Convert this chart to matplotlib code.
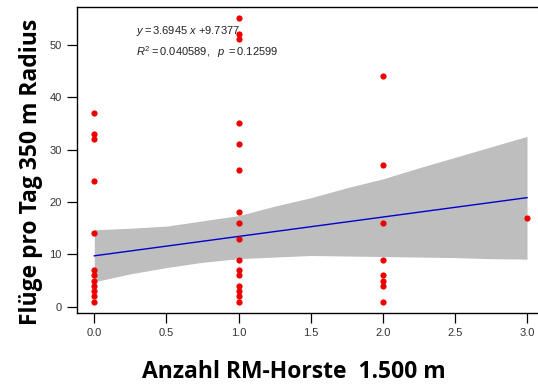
import numpy as np
import matplotlib
matplotlib.use("Agg")
import matplotlib.pyplot as plt

# points
x0 = [37, 33, 32, 24, 14, 7, 6, 5, 4, 3, 2, 1]
x1 = [55, 52, 51, 35, 31, 26, 18, 16, 13, 9, 7, 6, 4, 3, 2, 1]
x2 = [44, 27, 16, 9, 6, 5, 4, 1]
x3 = [17]

slope = 3.6945
intercept = 9.7377

# confidence band edges
band_x = [0, 0.25, 0.5, 0.75, 1, 1.25, 1.5, 1.75, 2, 2.25, 2.5, 2.75, 3]
band_hi = [14.7, 15.0, 15.4, 16.4, 17.4, 19.2, 20.8, 22.7, 24.4, 26.5, 28.5, 30.5, 32.5]
band_lo = [4.8, 6.3, 7.5, 8.5, 9.2, 9.5, 9.8, 9.7, 9.6, 9.5, 9.4, 9.2, 9.1]

xs = [0] * len(x0) + [1] * len(x1) + [2] * len(x2) + [3] * len(x3)
ys = x0 + x1 + x2 + x3

plt.rcParams['mathtext.fontset'] = 'custom'
plt.rcParams['mathtext.rm'] = 'Liberation Sans'
plt.rcParams['mathtext.it'] = 'Liberation Sans:italic'

fig = plt.figure(figsize=(5.38, 3.87), dpi=100)
ax = fig.add_axes([77 / 538, 74 / 387, (544.3 - 77) / 538, (313 - 7) / 387])

ax.fill_between(band_x, band_lo, band_hi, color='#bebebe', lw=0, zorder=1)
lx = np.array([0, 3])
ax.plot(lx, intercept + slope * lx, color='#0000cc', lw=1, zorder=2)
ax.scatter(xs, ys, s=20, color='#ee0000', zorder=3, lw=0)

ax.set_xlim(-0.12, 3.12)
ax.set_ylim(-1.16, 57.16)
ax.set_xticks([0, 0.5, 1, 1.5, 2, 2.5, 3])
ax.set_xticklabels(['0.0', '0.5', '1.0', '1.5', '2.0', '2.5', '3.0'])
ax.set_yticks([0, 10, 20, 30, 40, 50])
ax.tick_params(labelsize=8, labelcolor='#333333', length=7, width=0.9,
               direction='out', pad=4, labelfontfamily='Liberation Sans')
for s in ax.spines.values():
    s.set_linewidth(1)

ax.text(0.29, 52.5, r'$y = \mathrm{3.6945}\ x\ \mathrm{+9.7377}$', fontsize=8,
        va='center', ha='left', color='#222222')
ax.text(0.29, 48.5, r'$R^{2} = \mathrm{0.040589,}\ \ p\ \mathrm{= 0.12599}$',
        fontsize=8, va='center', ha='left', color='#222222')

fig.text(0.547, 0.038, 'Anzahl RM-Horste  1.500 m', fontsize=16.5, fontweight='bold',
         family='Open Sans', ha='center', va='center')
fig.text(0.058, 0.555, 'Flüge pro Tag 350 m Radius', fontsize=16.5, fontweight='bold',
         family='Open Sans', ha='center', va='center', rotation=90)

fig.savefig('out.png', dpi=100)
